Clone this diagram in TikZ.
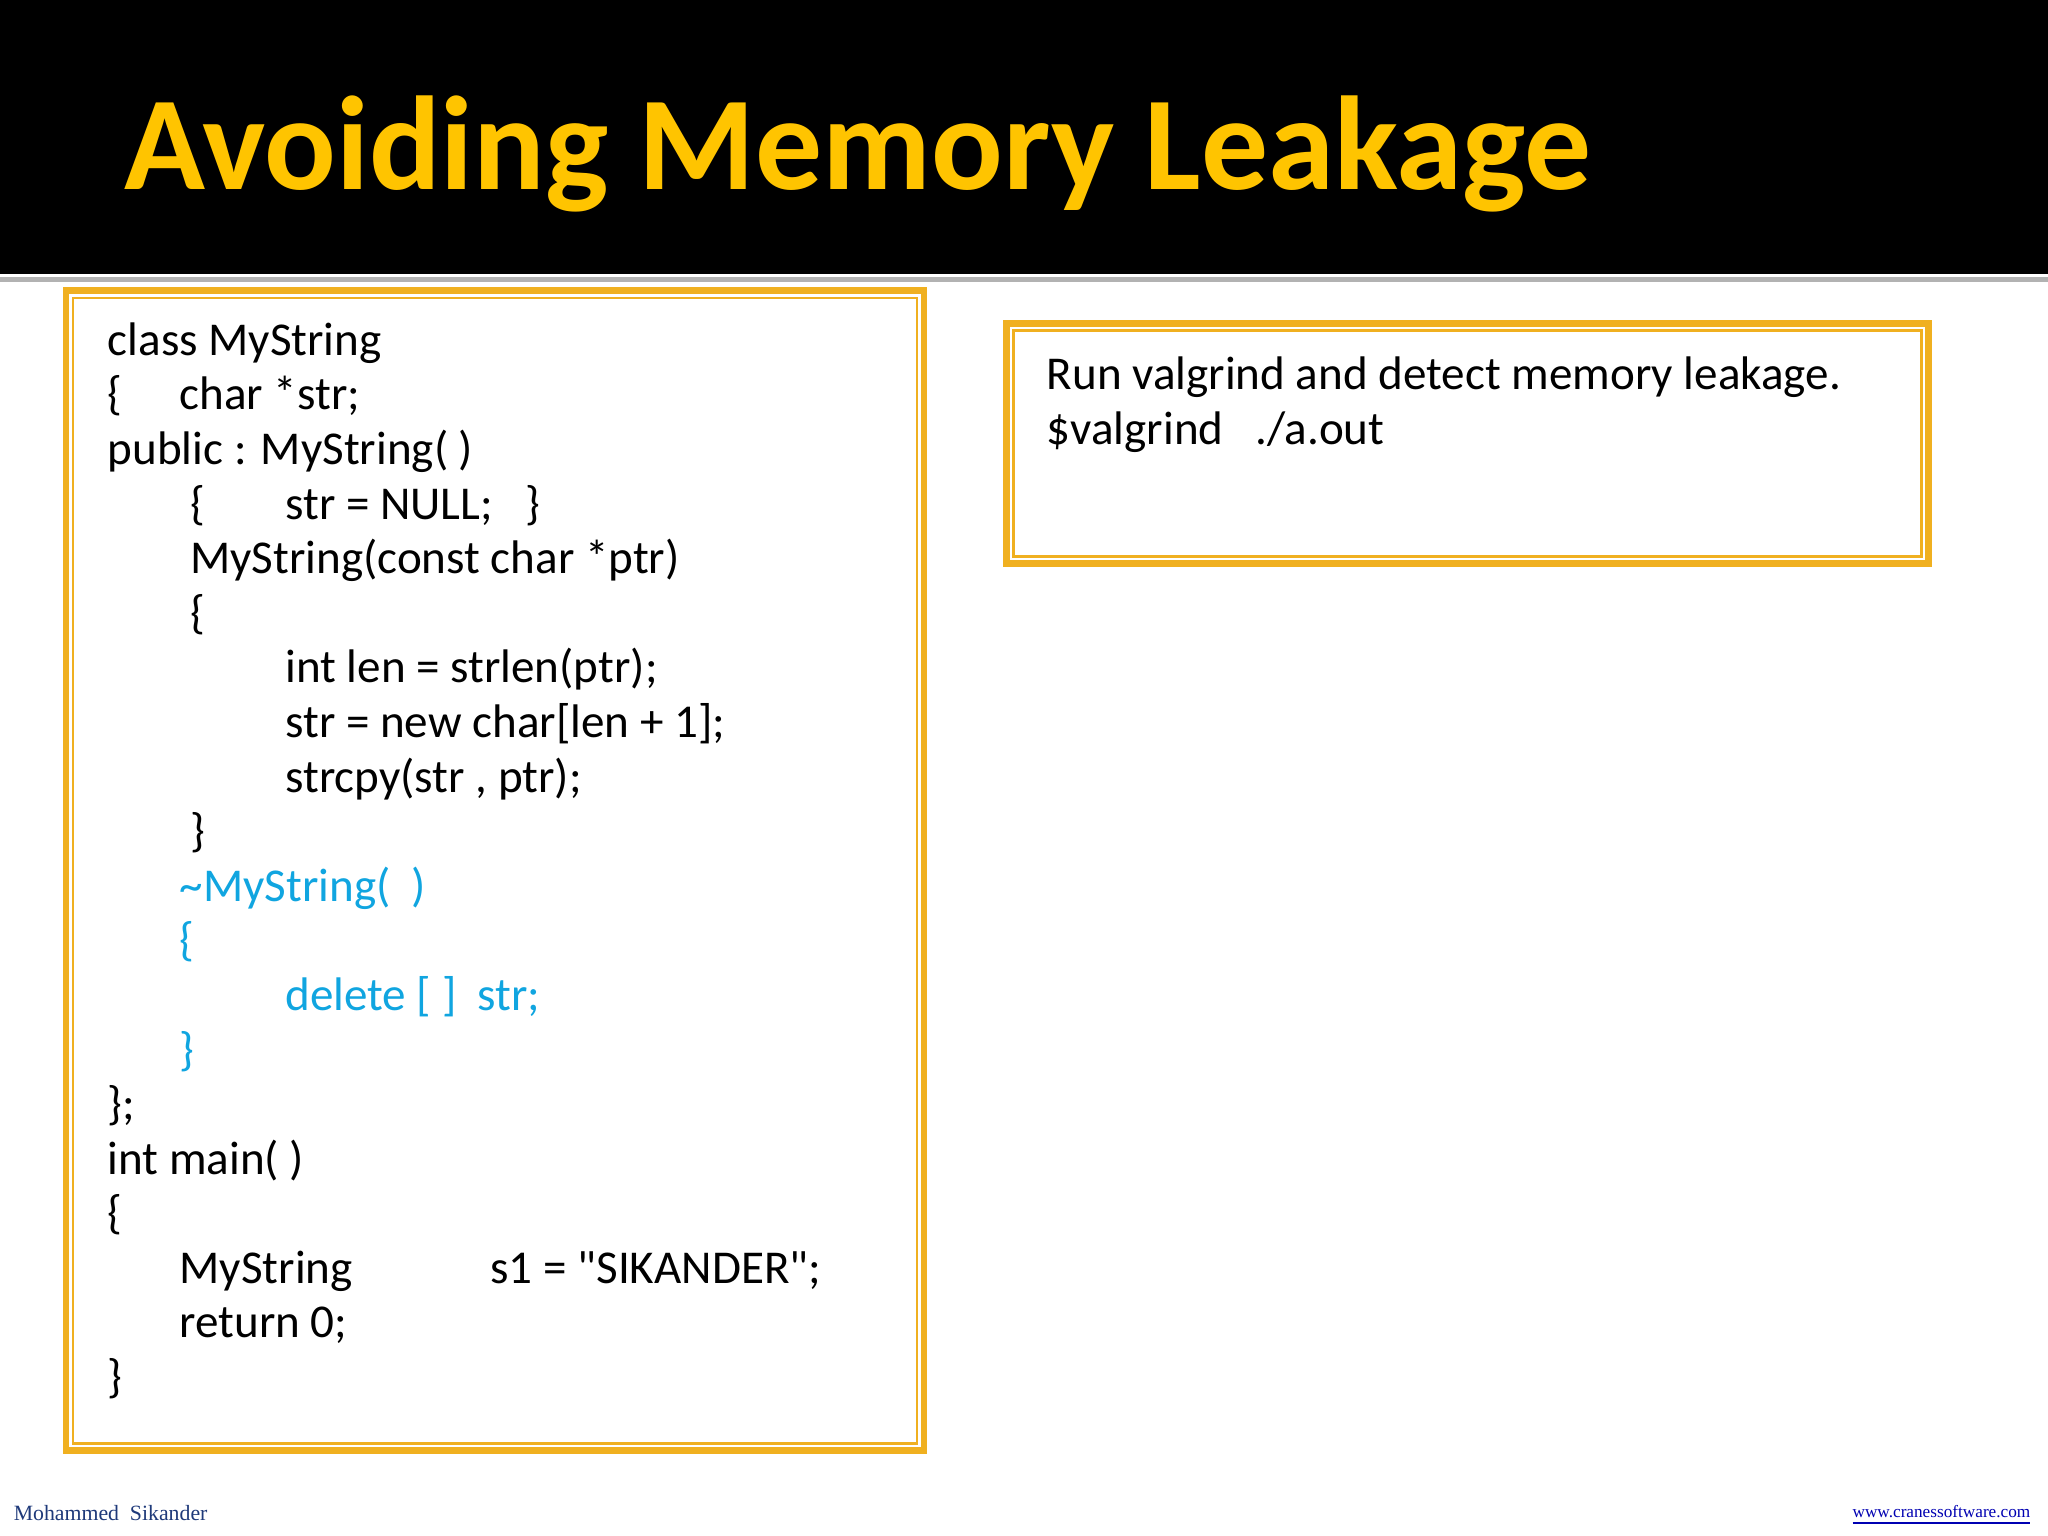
\documentclass[tikz,border=0pt]{standalone}
\usepackage{fontspec}
\setmainfont{Carlito}
\newfontfamily\tms{Liberation Serif}
\definecolor{gold}{HTML}{F0B020}
\definecolor{titleY}{HTML}{FFC400}
\definecolor{codeblue}{HTML}{10A5E0}
\definecolor{footblue}{HTML}{1F3A7A}
\begin{document}
\begin{tikzpicture}[x=0.013061cm,y=-0.013061cm,
  code/.style={anchor=base west,inner sep=0pt,font=\fontsize{13.4}{16}\selectfont},
  bcode/.style={code,text=codeblue},
  outerb/.style={gold,line width=0.65mm},
  innerb/.style={gold,line width=0.25mm}]
\useasboundingbox (0,0) rectangle (1568,1176);
\fill[white] (0,0) rectangle (1568,1176);
\fill[black] (0,0) rectangle (1568,210);
\fill[gray!60] (0,212) rectangle (1568,216);
\node[anchor=base west,inner sep=0pt,text=titleY,font=\fontsize{38}{42}\bfseries\selectfont] (title) at (95,145) {Avoiding Memory Leakage};
% left box
\draw[outerb] (50.5,222.5) rectangle (707.5,1110.5);
\draw[innerb] (56,228) rectangle (702,1105);
% right box
\draw[outerb] (770.5,247.5) rectangle (1476.5,431.5);
\draw[innerb] (776,253) rectangle (1471,426);
\node[code] (r1) at (801,298) {Run valgrind and detect memory leakage.};
\node[code] (r2) at (801,340) {\$valgrind\ \ \ ./a.out};
% code
\node[code] (c1) at (82,272) {class MyString};
\node[code] (c2a) at (82,313.8) {\{};
\node[code] (c2b) at (137,313.8) {char *str;};
\node[code] (c3) at (82,355.6) {public : MyString( )};
\node[code] (c4a) at (145,397.4) {\{};
\node[code] (c4b) at (218,397.4) {str = NULL;\ \ \ \}};
\node[code] (c5) at (145,439.2) {MyString(const char *ptr)};
\node[code] (c6) at (145,481) {\{};
\node[code] (c7) at (218,522.8) {int len = strlen(ptr);};
\node[code] (c8) at (218,564.6) {str = new char[len + 1];};
\node[code] (c9) at (218,606.4) {strcpy(str , ptr);};
\node[code] (c10) at (145,648.2) {\}};
\node[bcode] (c11) at (137,690) {\textasciitilde MyString(\ \ )};
\node[bcode] (c12) at (137,731.8) {\{};
\node[bcode] (c13) at (218,773.6) {delete [ ]\ \ str;};
\node[bcode] (c14) at (137,815.4) {\}};
\node[code] (c15) at (82,857.2) {\};};
\node[code] (c16) at (82,899) {int main( )};
\node[code] (c17) at (82,940.8) {\{};
\node[code] (c18a) at (137,982.6) {MyString};
\node[code] (c18b) at (375,982.6) {s1 = \textquotedbl SIKANDER\textquotedbl;};
\node[code] (c19) at (137,1024.4) {return 0;};
\node[code] (c20) at (82,1066.2) {\}};
% footer
\node[anchor=base west,inner sep=0pt,text=footblue,font=\tms\fontsize{6.2}{8}\selectfont] (f1) at (10,1164) {Mohammed\ \ Sikander};
\node[anchor=base east,inner sep=0pt,text=blue!70!black,font=\tms\fontsize{4.9}{6}\selectfont] (f2) at (1555,1162) {\underline{www.cranessoftware.com}};
\end{tikzpicture}
\end{document}
